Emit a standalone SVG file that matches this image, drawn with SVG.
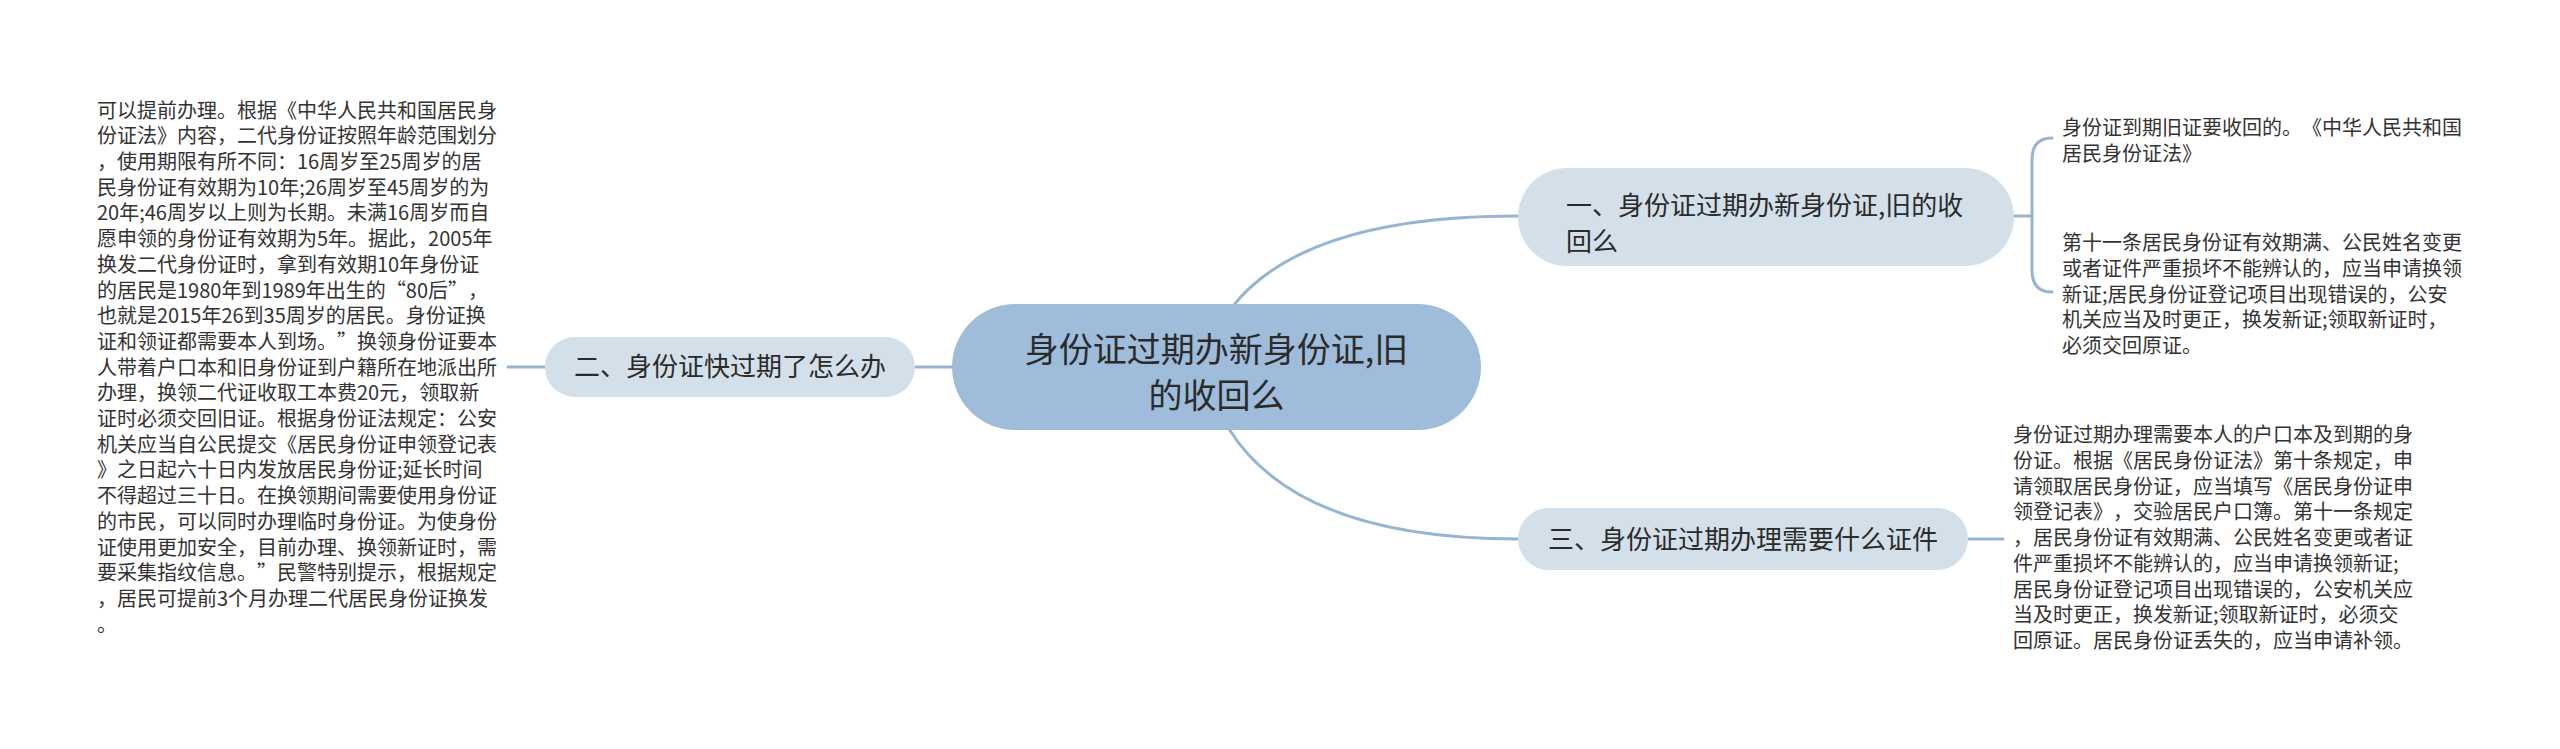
<svg xmlns="http://www.w3.org/2000/svg" width="2560" height="749" viewBox="0 0 2560 749">
<style>
.bg{fill:#ffffff}
.conn{fill:none;stroke:#97b4d3;stroke-width:3;stroke-linecap:round}
.root{fill:#9fbddb}
.sub{fill:#d3dfe9}
.t{font-family:"Microsoft YaHei","Noto Sans CJK SC","Noto Sans",sans-serif;fill:#2b2b2b;text-spacing-trim:space-all}
.rt{font-size:34px;text-anchor:middle}
.st{font-size:26px}
.lf{font-size:20px;fill:#333333}
</style>
<rect class="bg" x="0" y="0" width="2560" height="749"/>
<g id="connectors">
<path class="conn" d="M952,367 L915,367"/>
<path class="conn" d="M545,367 L508,367"/>
<path class="conn" d="M1233,306 Q1305,216 1518,216"/>
<path class="conn" d="M1229,429 Q1298,539 1518,539"/>
<path class="conn" d="M1968,539 L2003,539"/>
<path class="conn" d="M2014,216 L2032,216"/>
<path class="conn" d="M2052,138 Q2032,138 2032,160 L2032,270 Q2032,292 2052,292"/>
</g>
<g id="root">
<rect class="root" x="952" y="304" width="529" height="126" rx="63"/>
<text class="t rt" x="1216.5" y="362">身份证过期办新身份证,旧</text>
<text class="t rt" x="1216.5" y="408">的收回么</text>
</g>
<g id="node1">
<rect class="sub" x="1518" y="168" width="496" height="98" rx="49"/>
<text class="t st" x="1566" y="215">一、身份证过期办新身份证,旧的收</text>
<text class="t st" x="1566" y="251">回么</text>
</g>
<g id="node2">
<rect class="sub" x="545" y="337" width="370" height="60" rx="30"/>
<text class="t st" x="730" y="376" text-anchor="middle">二、身份证快过期了怎么办</text>
</g>
<g id="node3">
<rect class="sub" x="1518" y="508" width="450" height="62" rx="31"/>
<text class="t st" x="1743" y="549" text-anchor="middle">三、身份证过期办理需要什么证件</text>
</g>
<g id="leaf1a">
<text class="t lf" x="2062" y="135.2"><tspan x="2062">身份证到期旧证要收回的。《中华人民共和国</tspan><tspan x="2062" dy="25.7">居民身份证法》</tspan></text>
</g>
<g id="leaf1b">
<text class="t lf" x="2062" y="250.2"><tspan x="2062">第十一条居民身份证有效期满、公民姓名变更</tspan><tspan x="2062" dy="25.7">或者证件严重损坏不能辨认的，应当申请换领</tspan><tspan x="2062" dy="25.7">新证;居民身份证登记项目出现错误的，公安</tspan><tspan x="2062" dy="25.7">机关应当及时更正，换发新证;领取新证时，</tspan><tspan x="2062" dy="25.7">必须交回原证。</tspan></text>
</g>
<g id="leaf2">
<text class="t lf" x="97" y="117.6"><tspan x="97">可以提前办理。根据《中华人民共和国居民身</tspan><tspan x="97" dy="25.7">份证法》内容，二代身份证按照年龄范围划分</tspan><tspan x="97" dy="25.7">，使用期限有所不同：16周岁至25周岁的居</tspan><tspan x="97" dy="25.7">民身份证有效期为10年;26周岁至45周岁的为</tspan><tspan x="97" dy="25.7">20年;46周岁以上则为长期。未满16周岁而自</tspan><tspan x="97" dy="25.7">愿申领的身份证有效期为5年。据此，2005年</tspan><tspan x="97" dy="25.7">换发二代身份证时，拿到有效期10年身份证</tspan><tspan x="97" dy="25.7">的居民是1980年到1989年出生的“80后”，</tspan><tspan x="97" dy="25.7">也就是2015年26到35周岁的居民。身份证换</tspan><tspan x="97" dy="25.7">证和领证都需要本人到场。”换领身份证要本</tspan><tspan x="97" dy="25.7">人带着户口本和旧身份证到户籍所在地派出所</tspan><tspan x="97" dy="25.7">办理，换领二代证收取工本费20元，领取新</tspan><tspan x="97" dy="25.7">证时必须交回旧证。根据身份证法规定：公安</tspan><tspan x="97" dy="25.7">机关应当自公民提交《居民身份证申领登记表</tspan><tspan x="97" dy="25.7">》之日起六十日内发放居民身份证;延长时间</tspan><tspan x="97" dy="25.7">不得超过三十日。在换领期间需要使用身份证</tspan><tspan x="97" dy="25.7">的市民，可以同时办理临时身份证。为使身份</tspan><tspan x="97" dy="25.7">证使用更加安全，目前办理、换领新证时，需</tspan><tspan x="97" dy="25.7">要采集指纹信息。”民警特别提示，根据规定</tspan><tspan x="97" dy="25.7">，居民可提前3个月办理二代居民身份证换发</tspan><tspan x="97" dy="25.7">。</tspan></text>
</g>
<g id="leaf3">
<text class="t lf" x="2013" y="442.3"><tspan x="2013">身份证过期办理需要本人的户口本及到期的身</tspan><tspan x="2013" dy="25.7">份证。根据《居民身份证法》第十条规定，申</tspan><tspan x="2013" dy="25.7">请领取居民身份证，应当填写《居民身份证申</tspan><tspan x="2013" dy="25.7">领登记表》，交验居民户口簿。第十一条规定</tspan><tspan x="2013" dy="25.7">，居民身份证有效期满、公民姓名变更或者证</tspan><tspan x="2013" dy="25.7">件严重损坏不能辨认的，应当申请换领新证;</tspan><tspan x="2013" dy="25.7">居民身份证登记项目出现错误的，公安机关应</tspan><tspan x="2013" dy="25.7">当及时更正，换发新证;领取新证时，必须交</tspan><tspan x="2013" dy="25.7">回原证。居民身份证丢失的，应当申请补领。</tspan></text>
</g>
</svg>
